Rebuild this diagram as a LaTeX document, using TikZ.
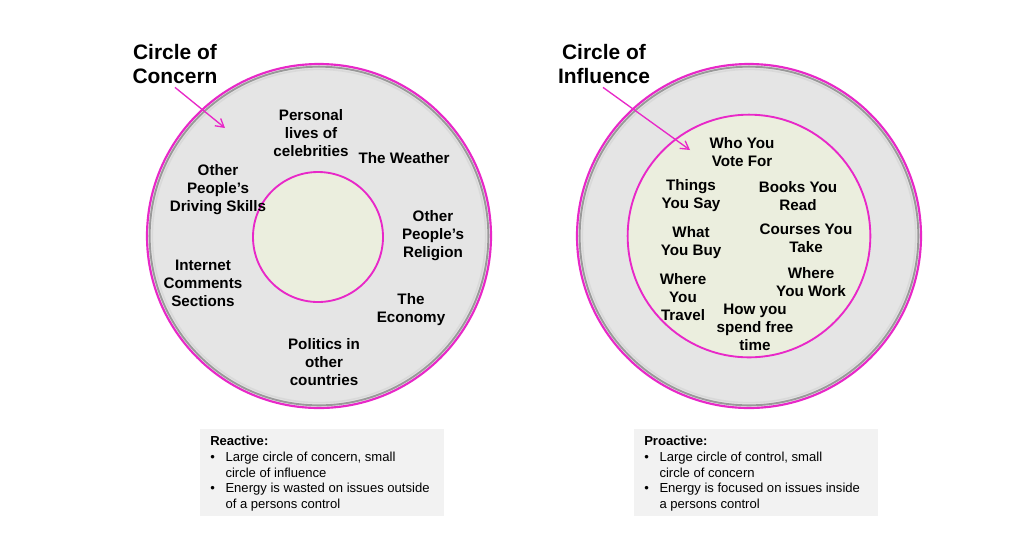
\documentclass[tikz,border=0pt]{standalone}
\usepackage{fontspec}
\setmainfont{Liberation Sans}
\usepackage{xcolor}
\usepackage{tikz}
\usetikzlibrary{arrows.meta,positioning,calc}

\definecolor{rimpink}{RGB}{232,40,200}
\definecolor{discgrey}{RGB}{229,229,229}
\definecolor{coregreen}{RGB}{235,238,222}
\definecolor{notegrey}{RGB}{242,242,242}

\begin{document}
\begin{tikzpicture}[
    x=0.75pt, y=-0.75pt,
    disc/.style={circle, draw=rimpink, line width=1.6pt, fill=discgrey, minimum size=258pt, inner sep=0pt},
    shade/.style={circle, draw=black!40, line width=1.4pt, minimum size=254pt, inner sep=0pt},
    bevel/.style={circle, draw=white!85!black, line width=1.2pt, minimum size=250pt, inner sep=0pt},
    core/.style={circle, draw=rimpink, line width=1.4pt, fill=coregreen, inner sep=0pt},
    title/.style={align=center, font=\fontsize{15.7}{18}\selectfont\bfseries},
    lbl/.style={align=center, font=\fontsize{11.4}{13.5}\selectfont\bfseries},
    note/.style={rectangle, fill=notegrey, anchor=north west, minimum width=183pt, minimum height=65pt, inner sep=0pt},
    notetext/.style={anchor=north west, align=left, inner sep=0pt, font=\fontsize{9.8}{11.8}\selectfont},
    pointer/.style={-{Straight Barb[length=6pt,width=7pt]}, draw=rimpink, line width=1pt}
]
    \useasboundingbox [fill=white] (0,0) rectangle (1024,537);

    % left: circle of concern
    \node [disc] (cc) at (319,236) {};
    \node [shade] at (cc) {};
    \node [bevel] at (cc) {};
    \node [core, minimum size=97.5pt] (ci) at (318,237) {};

    % right: circle of influence
    \node [disc] (ic) at (749,236) {};
    \node [shade] at (ic) {};
    \node [bevel] at (ic) {};
    \node [core, minimum size=182pt] (ii) at (749,236) {};

    % titles and pointers
    \node [title] (tc) at (175,64) {Circle of\\Concern};
    \node [title] (ti) at (604,64) {Circle of\\Influence};
    \coordinate (pc) at (225,128);
    \coordinate (pi) at (690,150);
    \draw [pointer] ($(tc.south)+(0,-1)$) -- (pc);
    \draw [pointer] ($(ti.south)+(-1,-1)$) -- (pi);

    % concern items
    \node [lbl] (c1) at (311,133) {Personal\\lives of\\celebrities};
    \node [lbl] (c2) at (404,158) {The Weather};
    \node [lbl] (c3) at (218,190) {Other\\People’s\\Driving Skills};
    \node [lbl] (c4) at (433,236) {Other\\People’s\\Religion};
    \node [lbl] (c5) at (203,283) {Internet\\Comments\\Sections};
    \node [lbl] (c6) at (411,310) {The\\Economy};
    \node [lbl] (c7) at (324,362) {Politics in\\other\\countries};

    % influence items
    \node [lbl] (i1) at (742,152) {Who You\\Vote For};
    \node [lbl] (i2) at (691,196) {Things\\You Say};
    \node [lbl] (i3) at (798,196) {Books You\\Read};
    \node [lbl] (i4) at (691,243) {What\\You Buy};
    \node [lbl] (i5) at (806,238) {Courses You\\Take};
    \node [lbl] (i6) at (811,282) {Where\\You Work};
    \node [lbl] (i7) at (683,297) {Where\\You\\Travel};
    \node [lbl] (i8) at (755,327) {How you\\spend free\\time};

    % notes
    \node [note] (nr) at (200,429) {};
    \node [notetext] (nrt) at ($(nr.north west)+(10,7)$) {\textbf{Reactive:}\\
        \textbullet\hspace{8pt}Large circle of concern, small\\
        \hphantom{\textbullet}\hspace{8pt}circle of influence\\
        \textbullet\hspace{8pt}Energy is wasted on issues outside\\
        \hphantom{\textbullet}\hspace{8pt}of a persons control};
    \node [note] (np) at (634,429) {};
    \node [notetext] (npt) at ($(np.north west)+(10,7)$) {\textbf{Proactive:}\\
        \textbullet\hspace{8pt}Large circle of control, small\\
        \hphantom{\textbullet}\hspace{8pt}circle of concern\\
        \textbullet\hspace{8pt}Energy is focused on issues inside\\
        \hphantom{\textbullet}\hspace{8pt}a persons control};
\end{tikzpicture}
\end{document}
